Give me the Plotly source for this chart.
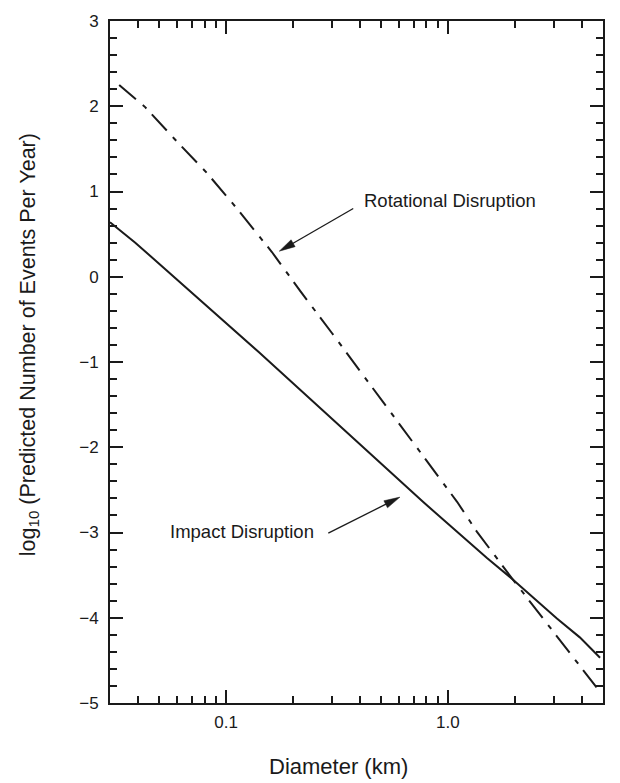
import numpy as np
import plotly.graph_objects as go

# Diameter (km) and log10 of predicted events per year for each process
impact_d = [0.030, 0.039, 0.140, 0.294, 0.772, 1.50, 1.96, 3.10, 3.93, 4.85]
impact_log = [0.64, 0.40, -0.88, -1.65, -2.64, -3.30, -3.55, -4.01, -4.23, -4.47]

rot_d = [0.033, 0.0432, 0.0589, 0.0818, 0.108, 0.161, 0.215, 0.300, 1.10, 1.35, 1.96, 4.84, 4.95]
rot_log = [2.25, 1.99, 1.61, 1.22, 0.85, 0.29, -0.16, -0.66, -2.64, -2.99, -3.55, -4.87, -4.90]

# Axis ticks
x_major = [0.1, 1.0]
x_major_text = ["0.1", "1.0"]
x_minor = [0.03, 0.04, 0.05, 0.06, 0.07, 0.08, 0.09,
           0.2, 0.3, 0.4, 0.5, 0.6, 0.7, 0.8, 0.9,
           2, 3, 4]

# Callout labels and their arrows (tail, tip) in (diameter, log10 N)
rot_label = ("Rotational Disruption", 0.41, 0.90)
rot_arrow = ((0.3745, 0.80), (0.1738, 0.30))
imp_label = ("Impact Disruption", 0.0548, -2.99)
imp_arrow = ((0.289, -3.008), (0.608, -2.585))

W, H = 620, 783
ML, MR, MT, MB = 110, 17, 15, 80
x_range = [np.log10(0.03), np.log10(5.0)]
y_range = [-5, 3]
sx = (W - ML - MR) / (x_range[1] - x_range[0])
sy = (H - MT - MB) / (y_range[1] - y_range[0])

INK = "#1a1a1a"
FONT = "Liberation Sans, Arial, Helvetica, sans-serif"

fig = go.Figure()

fig.add_trace(go.Scatter(x=impact_d, y=impact_log, mode="lines",
                         line=dict(color=INK, width=2), hoverinfo="skip",
                         showlegend=False))
fig.add_trace(go.Scatter(x=rot_d, y=rot_log, mode="lines",
                         line=dict(color=INK, width=2, dash="22px,9px,5px,8px"),
                         hoverinfo="skip", showlegend=False))


def add_arrow(tail, tip, head_len=16.0, head_half=4.0):
    # work in screen-proportional units so the head keeps its shape
    p0 = np.array([np.log10(tail[0]) * sx, tail[1] * sy])
    p1 = np.array([np.log10(tip[0]) * sx, tip[1] * sy])
    d = p1 - p0
    d = d / np.linalg.norm(d)
    perp = np.array([-d[1], d[0]])
    base = p1 - head_len * d
    c1 = base + head_half * perp
    c2 = base - head_half * perp
    to_x = lambda u: 10 ** (u / sx)
    to_y = lambda v: v / sy
    shaft_end = p1 - (head_len - 2) * d
    fig.add_trace(go.Scatter(x=[to_x(p0[0]), to_x(shaft_end[0])],
                             y=[to_y(p0[1]), to_y(shaft_end[1])],
                             mode="lines", line=dict(color=INK, width=1.3),
                             hoverinfo="skip", showlegend=False))
    fig.add_trace(go.Scatter(x=[to_x(p1[0]), to_x(c1[0]), to_x(c2[0]), to_x(p1[0])],
                             y=[to_y(p1[1]), to_y(c1[1]), to_y(c2[1]), to_y(p1[1])],
                             mode="lines", fill="toself", fillcolor=INK,
                             line=dict(color=INK, width=0.5),
                             hoverinfo="skip", showlegend=False))


add_arrow(*rot_arrow)
add_arrow(*imp_arrow)

for text, xd, yd in (rot_label, imp_label):
    fig.add_annotation(x=np.log10(xd), y=yd, xref="x", yref="y", text=text,
                       showarrow=False, xanchor="left", yanchor="middle",
                       font=dict(family=FONT, size=18.5, color=INK))

axis_common = dict(showline=True, linewidth=2, linecolor=INK, mirror="ticks",
                   ticks="inside", tickwidth=1.5, tickcolor=INK, showgrid=False,
                   zeroline=False, tickfont=dict(family=FONT, size=17, color=INK))

fig.update_xaxes(type="log", range=x_range, tickmode="array", tickvals=x_major,
                 ticktext=x_major_text, ticklen=13, ticklabelstandoff=3,
                 minor=dict(tickmode="array", tickvals=x_minor, ticks="inside",
                            ticklen=7, tickwidth=1.5, tickcolor=INK, showgrid=False),
                 **axis_common)
fig.update_yaxes(range=y_range, tickmode="linear", tick0=0, dtick=1, ticklen=13,
                 ticklabelstandoff=6,
                 minor=dict(tickmode="linear", tick0=0, dtick=0.2, ticks="inside",
                            ticklen=7, tickwidth=1.5, tickcolor=INK, showgrid=False),
                 **axis_common)

# Axis titles
fig.add_annotation(x=(338 - ML) / (W - ML - MR), y=-0.093, xref="paper", yref="paper",
                   text="Diameter (km)", showarrow=False, xanchor="center",
                   yanchor="middle", font=dict(family=FONT, size=22, color=INK))
fig.add_annotation(x=-0.1643, y=0.5247, xref="paper", yref="paper",
                   text="log<sub>10</sub> (Predicted Number of Events Per Year)",
                   showarrow=False, textangle=-90, xanchor="center", yanchor="middle",
                   font=dict(family=FONT, size=21.5, color=INK))

fig.update_layout(width=W, height=H, margin=dict(l=ML, r=MR, t=MT, b=MB),
                  paper_bgcolor="white", plot_bgcolor="white")

fig.write_html("out.html")
